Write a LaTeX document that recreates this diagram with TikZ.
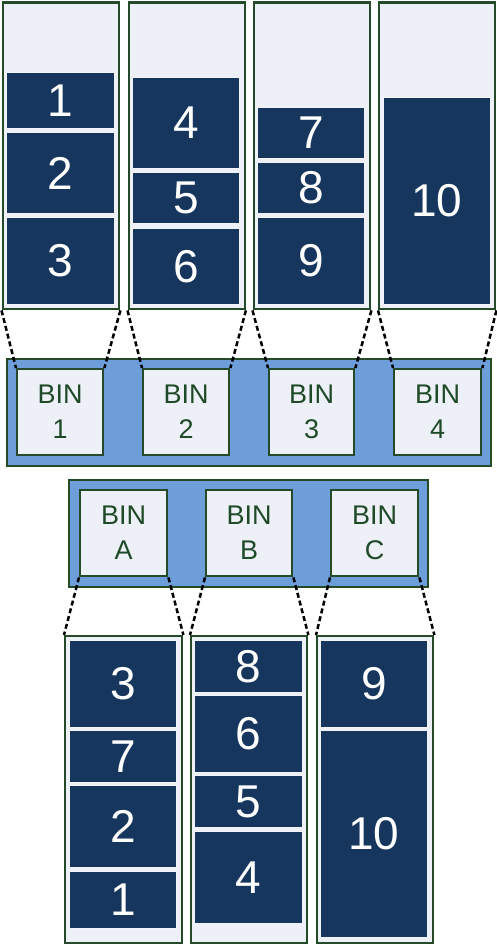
\documentclass[tikz,border=0pt]{standalone}
\usepackage{fontspec}
\setmainfont{Liberation Sans}
\definecolor{itemblue}{HTML}{17365D}
\definecolor{binfill}{HTML}{EDF0F6}
\definecolor{panelblue}{HTML}{6E9EDA}
\definecolor{bordergreen}{HTML}{244A2A}
\definecolor{textgreen}{HTML}{1F4A27}
\newcommand\nbox[7]{\node[#1, anchor=north west, minimum width={(#5-#3)*1pt}, minimum height={(#6-#4)*1pt}] (#2) at (#3,#4) {#7};}
\begin{document}
\begin{tikzpicture}[x=1pt,y=-1pt,
  bin/.style={draw=bordergreen, fill=binfill, line width=2.4pt, inner sep=0pt},
  item/.style={draw=binfill!70!white, fill=itemblue, line width=1pt, inner sep=0pt, text=white, font=\fontsize{46}{46}\selectfont},
  panel/.style={draw=bordergreen, fill=panelblue, line width=2pt, inner sep=0pt},
  binlabel/.style={draw=bordergreen, fill=binfill, line width=2.4pt, inner sep=0pt, align=center, text=textgreen, font=\fontsize{27}{35}\selectfont},
  link/.style={draw=black, line width=2.5pt, dash pattern=on 5pt off 3pt}]
\useasboundingbox (0,0) rectangle (496,944);
% top bins
\nbox{bin}{T1}{1.5}{1.5}{118}{308}{}
\nbox{bin}{T2}{127.5}{1.5}{243.5}{308}{}
\nbox{bin}{T3}{252.5}{1.5}{369}{308}{}
\nbox{bin}{T4}{378}{1.5}{494}{308}{}
% top items
\nbox{item}{i1}{6}{72}{114}{128}{1}
\nbox{item}{i2}{6}{132}{114}{213}{2}
\nbox{item}{i3}{6}{217}{114}{304}{3}
\nbox{item}{i4}{132}{77}{239}{168}{4}
\nbox{item}{i5}{132}{172}{239}{223}{5}
\nbox{item}{i6}{132}{228}{239}{304}{6}
\nbox{item}{i7}{257}{107}{364}{158}{7}
\nbox{item}{i8}{257}{162}{364}{213}{8}
\nbox{item}{i9}{257}{217}{364}{304}{9}
\nbox{item}{i10}{383}{97}{490}{304}{10}
% middle panel
\nbox{panel}{M}{6}{358}{490}{465}{}
\nbox{binlabel}{B1}{16}{368}{102}{454}{BIN\\1}
\nbox{binlabel}{B2}{142}{368}{228}{454}{BIN\\2}
\nbox{binlabel}{B3}{268}{368}{353}{454}{BIN\\3}
\nbox{binlabel}{B4}{393}{368}{480}{454}{BIN\\4}
% lower panel
\nbox{panel}{L}{68}{479}{427}{586}{}
\nbox{binlabel}{BA}{79}{489}{166}{575}{BIN\\A}
\nbox{binlabel}{BB}{205}{489}{291}{575}{BIN\\B}
\nbox{binlabel}{BC}{330}{489}{417}{575}{BIN\\C}
% bottom bins
\nbox{bin}{LA}{64}{635}{181}{942}{}
\nbox{bin}{LB}{190}{635}{306}{942}{}
\nbox{bin}{LC}{316}{635}{432}{942}{}
% bottom items
\nbox{item}{j3}{69}{640}{176}{727}{3}
\nbox{item}{j7}{69}{730}{176}{782}{7}
\nbox{item}{j2}{69}{785}{176}{867}{2}
\nbox{item}{j1}{69}{871}{176}{928}{1}
\nbox{item}{j8}{194}{640}{302}{692}{8}
\nbox{item}{j6}{194}{695}{302}{772}{6}
\nbox{item}{j5}{194}{775}{302}{827}{5}
\nbox{item}{j4}{194}{831}{302}{923}{4}
\nbox{item}{j9}{320}{640}{427}{727}{9}
\nbox{item}{j10}{320}{730}{427}{937}{10}
% dashed connectors
\foreach \t/\b in {T1/B1,T2/B2,T3/B3,T4/B4}{
  \draw[link] (\t.south west) -- (\b.north west);
  \draw[link] (\t.south east) -- (\b.north east);
}
\foreach \t/\b in {BA/LA,BB/LB,BC/LC}{
  \draw[link] (\t.south west) -- (\b.north west);
  \draw[link] (\t.south east) -- (\b.north east);
}
\end{tikzpicture}
\end{document}
